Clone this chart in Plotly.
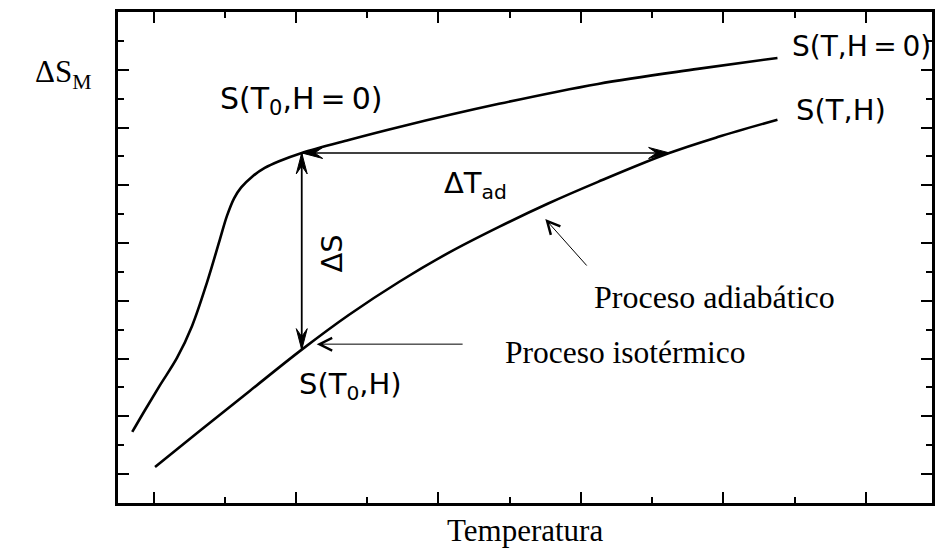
import numpy as np
import plotly.graph_objects as go

# Entropy versus temperature: zero field and applied field
t_zero = [-0.30, -0.12, 0.09, 0.33, 0.54, 0.75, 0.93, 1.03, 1.13, 1.23, 1.38, 1.56, 1.77,
          2.08, 2.74, 3.45, 4.85, 6.24, 7.64, 8.76]
s_zero = [1.46, 2.22, 3.08, 4.03, 5.13, 6.64, 8.12, 8.94, 9.55, 9.93, 10.29, 10.60, 10.84,
          11.12, 11.57, 12.02, 12.82, 13.51, 14.03, 14.41]
t_field = [0.02, 0.65, 1.35, 2.08, 2.74, 3.45, 4.14, 4.85, 5.54, 6.24, 7.22, 7.92, 8.76]
s_field = [0.25, 1.50, 2.88, 4.31, 5.51, 6.66, 7.66, 8.56, 9.37, 10.12, 11.10, 11.67, 12.27]

# Starting temperature of the isothermal / adiabatic processes
T0 = 2.08

# Layout geometry
W, H = 940, 552
M_L, M_R, M_T, M_B = 118, 5, 12, 49
X_RANGE = [-0.5, 10.93]
Y_RANGE = [-1.0, 16.0]
kx = (W - M_L - M_R) / (X_RANGE[1] - X_RANGE[0])   # px per x unit
ky = (H - M_T - M_B) / (Y_RANGE[1] - Y_RANGE[0])   # px per y unit

S0 = float(np.interp(T0, t_zero, s_zero))          # S(T0, H=0)
S0H = float(np.interp(T0, t_field, s_field))       # S(T0, H)
T1 = float(np.interp(S0, s_field, t_field))        # adiabatic end point

fig = go.Figure()

LINE = dict(color="black", width=2.6)
for tx, sy in ((t_zero, s_zero), (t_field, s_field)):
    fig.add_trace(go.Scatter(x=tx, y=sy, mode="lines",
                             line=dict(LINE, shape="spline", smoothing=1.0),
                             hoverinfo="skip", showlegend=False))


def head(tip_t, tip_s, dx, dy, L=21, Wd=11):
    """Filled swept arrowhead at (tip_t, tip_s) pointing along screen dir (dx, dy)."""
    n = np.hypot(dx, dy)
    ux, uy = dx / n, dy / n
    vx, vy = -uy, ux
    pts = [(0, 0), (-L * ux + Wd / 2 * vx, -L * uy + Wd / 2 * vy),
           (-0.62 * L * ux, -0.62 * L * uy),
           (-L * ux - Wd / 2 * vx, -L * uy - Wd / 2 * vy), (0, 0)]
    xs = [tip_t + p[0] / kx for p in pts]
    ys = [tip_s + p[1] / ky for p in pts]
    fig.add_trace(go.Scatter(x=xs, y=ys, mode="lines", fill="toself",
                             fillcolor="black", line=dict(color="black", width=1),
                             hoverinfo="skip", showlegend=False))


# ΔS: vertical double arrow between the two curves at T0
fig.add_trace(go.Scatter(x=[T0, T0], y=[S0, S0H], mode="lines",
                         line=dict(color="black", width=1.8),
                         hoverinfo="skip", showlegend=False))
head(T0, S0, 0, 1)
head(T0, S0H, 0, -1)

# ΔT_ad: horizontal double arrow at constant entropy
fig.add_trace(go.Scatter(x=[T0, T1], y=[S0, S0], mode="lines",
                         line=dict(color="black", width=1.5),
                         hoverinfo="skip", showlegend=False))
head(T0, S0, -1, 0)
head(T1, S0, 1, 0)

SANS = "DejaVu Sans, Arial, sans-serif"
SERIF = "Liberation Serif, Times New Roman, serif"

ann = []


def label(x, y, text, font, size, xanchor="left", xref="x", yref="y", angle=0):
    ann.append(dict(x=x, y=y, xref=xref, yref=yref, text=text, showarrow=False,
                    xanchor=xanchor, yanchor="middle", textangle=angle,
                    font=dict(family=font, size=size, color="black")))


label(8.93, 14.82, "S(T,H\u2009=\u20090)", SANS, 28)
label(8.99, 12.60, "S(T,H)", SANS, 29)
label(0.90, 12.95, "S(T<sub>0</sub>,H\u2009=\u20090)", SANS, 30)
label(4.05, 10.0, "\u0394T<sub>ad</sub>", SANS, 29)
label(2.51, 7.65, "\u0394S", SANS, 29, xanchor="center", angle=-90)
label(2.01, 3.05, "S(T<sub>0</sub>,H)", SANS, 29)
label(6.15, 6.13, "Proceso adiabático", SERIF, 32)
label(4.91, 4.22, "Proceso isotérmico", SERIF, 31.5)
label(0.5006, -0.055, "Temperatura", SERIF, 31, xanchor="center", xref="paper", yref="paper")
label(-0.104, 0.874, "\u0394S<sub>M</sub>", SERIF, 31, xanchor="left", xref="paper", yref="paper")

# Pointer arrows for the two processes
for tip, tail in (((5.50, 8.83), (6.10, 7.17)), ((2.29, 4.50), (4.36, 4.50))):
    ann.append(dict(x=tip[0], y=tip[1], ax=tail[0], ay=tail[1],
                    xref="x", yref="y", axref="x", ayref="y",
                    showarrow=True, arrowhead=5, arrowsize=2.5, arrowwidth=1,
                    arrowcolor="black", text=""))

axis_common = dict(showline=True, linecolor="black", linewidth=3, mirror="allticks",
                   ticks="inside", ticklen=11, tickwidth=2, tickcolor="black",
                   showticklabels=False, showgrid=False, zeroline=False,
                   minor=dict(ticks="inside", ticklen=6, tickwidth=2, tickcolor="black",
                              dtick=1, showgrid=False))

fig.update_xaxes(range=X_RANGE, tick0=0, dtick=2, **axis_common)
fig.update_yaxes(range=Y_RANGE, tick0=0, dtick=2, **axis_common)

fig.update_layout(width=W, height=H, margin=dict(l=M_L, r=M_R, t=M_T, b=M_B),
                  paper_bgcolor="white", plot_bgcolor="white",
                  annotations=ann, showlegend=False)

fig.write_html("out.html")
